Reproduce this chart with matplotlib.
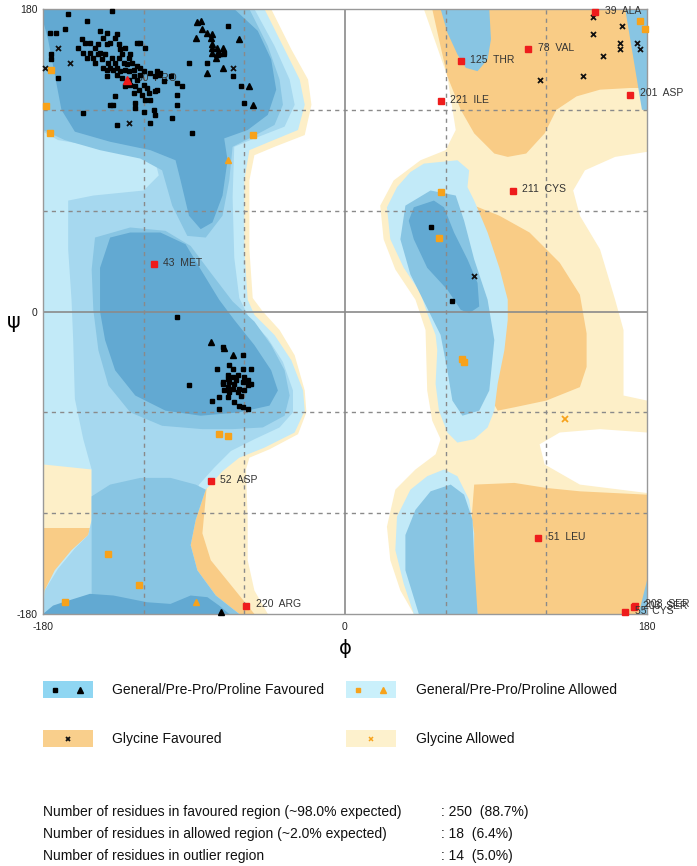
import matplotlib
matplotlib.use('Agg')
import matplotlib.pyplot as plt
from matplotlib.patches import Polygon, Rectangle

plt.rcParams['font.family'] = ['Liberation Sans', 'DejaVu Sans']
plt.rcParams['axes.unicode_minus'] = False

# ---------------- region outlines (phi, psi in degrees) ----------------
gly_allowed_left = [(-180,180),(-44,180),(-32,156),(-22,138),(-20,123),(-24,105),(-42,98),(-54,93),
    (-57,78),(-57,37),(-55,8),(-49,0),(-39,-11),(-30,-26),(-24,-47),(-23,-60),(-28,-73),(-45,-82),
    (-57,-87),(-59,-94),(-58,-124),(-58,-148),(-54,-166),(-46,-180),(-180,-180)]
gly_allowed_right = [(47,180),(180,180),(180,95),(161,92),(143,84),(136,72),(140,57),(152,37),(161,7),
    (166,-11),(166,-50),(180,-53),(180,-72),(152,-70),(128,-72),(116,-79),(119,-91),(140,-103),
    (180,-108),(180,-180),(41,-180),(33,-166),(27,-148),(25,-128),(30,-106),(42,-94),(54,-85),
    (57,-76),(52,-65),(49,-47),(48,-11),(42,7),(30,25),(23,43),(21,63),(29,78),(45,90),(60,96),
    (66,108),(61,140)]
gly_fav_left_band = [(-82,-100),(-85,-132),(-80,-148),(-67,-164),(-54,-180),(-98,-180),(-98,-100)]
gly_fav_left_corner = [(-180,-129),(-151,-129),(-151,-180),(-180,-180)]
gly_fav_top_right = [(52,180),(180,180),(180,133),(170,133),(152,132),(138,128),(126,120),(119,106),
    (108,94),(97,92),(89,94),(77,106),(69,120),(61,140),(56,162)]
gly_fav_mid_right = [(77,63),(92,57),(110,47),(128,29),(140,10),(144,-13),(144,-33),(140,-45),
    (120,-53),(101,-57),(91,-59),(86,-50),(89,7),(80,31),(74,54)]
gly_fav_low_right = [(77,-103),(101,-102),(120,-105),(140,-107),(180,-109),(180,-180),(77,-180),(74,-142)]

gen_allowed_outer_left = [(-180,180),(-48,180),(-36,156),(-27,138),(-24,123),(-28,108),(-45,101),
    (-57,96),(-60,78),(-60,37),(-58,7),(-54,-2),(-42,-14),(-32,-29),(-25,-47),(-24,-59),(-30,-72),
    (-48,-81),(-63,-87),(-73,-95),(-83,-106),(-89,-124),(-92,-139),(-88,-154),(-77,-169),(-63,-180),
    (-180,-180),(-179,-166),(-173,-154),(-163,-142),(-153,-133),(-151,-124),(-151,-94),(-180,-91)]
gen_allowed_inner_left = [(-180,180),(-54,180),(-42,158),(-33,138),(-30,123),(-36,110),(-54,103),
    (-66,98),(-67,68),(-66,32),(-63,8),(-57,-4),(-46,-16),(-37,-30),(-31,-47),(-31,-60),(-39,-69),
    (-54,-76),(-68,-83),(-78,-93),(-87,-103),(-93,-118),(-96,-136),(-93,-151),(-84,-166),(-70,-180),
    (-180,-180),(-179,-166),(-171,-153),(-161,-141),(-153,-133),(-151,-124),(-151,-94),(-156,-76),
    (-161,-52),(-162,-17),(-163,7),(-165,37),(-165,66),(-150,69),(-120,72),(-111,81),(-114,93),
    (-132,98),(-153,99),(-171,102),(-180,107)]
gen_mid_left_top = [(-180,180),(-57,180),(-46,158),(-39,138),(-37,123),(-42,111),(-57,103),(-67,98),
    (-69,78),(-73,57),(-83,44),(-94,45),(-103,63),(-109,84),(-122,91),(-146,96),(-167,102),(-180,108)]
gen_mid_left_alpha = [(-149,44),(-128,50),(-107,48),(-92,39),(-80,23),(-67,6),(-54,-6),(-44,-20),
    (-36,-35),(-33,-50),(-36,-62),(-49,-69),(-67,-70),(-85,-70),(-109,-68),(-128,-60),(-141,-44),
    (-147,-23),(-150,1),(-151,25)]
gen_mid_left_bottom = [(-151,-110),(-140,-103),(-122,-99),(-104,-99),(-89,-103),(-83,-106),(-89,-124),
    (-92,-139),(-88,-154),(-77,-169),(-63,-180),(-151,-180)]
gen_fav_left_top = [(-180,180),(-66,180),(-52,167),(-44,150),(-41,132),(-46,117),(-58,108),(-72,103),
    (-70,90),(-73,69),(-79,53),(-86,49),(-93,57),(-98,78),(-101,90),(-116,96),(-140,101),(-161,107),
    (-169,120),(-173,141),(-177,162),(-180,173)]
gen_fav_left_alpha = [(-140,44),(-146,26),(-146,0),(-143,-17),(-137,-35),(-125,-50),(-107,-59),
    (-86,-62),(-63,-60),(-45,-56),(-40,-47),(-44,-35),(-54,-20),(-66,-5),(-75,7),(-86,25),(-95,40),
    (-110,47),(-128,47)]
gen_fav_left_bottom = [(-180,-180),(-174,-175),(-168,-173),(-152,-168),(-138,-169),(-118,-173),
    (-104,-174),(-92,-169),(-82,-170),(-75,-175),(-69,-180)]

gen_right_top_tongue = [(57,180),(86,180),(87,162),(85,150),(79,143),(72,145),(67,153),(61,166)]
gen_right_edge_strip = [(167,180),(180,180),(180,120),(177,120),(173,144)]
gen_right_corner = [(175,-180),(180,-160),(180,-180)]
gen_right_alpha_outer = [(47,88),(67,90),(74,84),(73,74),(77,66),(85,47),(92,26),(97,7),(97,-5),(95,-23),
    (91,-43),(89,-59),(85,-69),(77,-76),(67,-78),(61,-72),(56,-59),(54,-43),(55,-23),(54,-14),(49,-1),
    (45,11),(35,26),(27,43),(25,62),(31,74),(39,83)]
gen_right_alpha_mid = [(36,63),(51,72),(66,69),(71,54),(77,31),(85,7),(89,-17),(86,-47),(80,-59),
    (70,-62),(64,-53),(61,-35),(57,-14),(48,4),(39,22),(33,43)]
gen_right_alpha_fav = [(41,62),(53,66),(59,62),(65,47),(73,31),(79,17),(80,3),(74,-1),(69,1),(61,13),
    (49,26),(41,43),(38,54)]
gen_right_low_outer = [(59,-94),(49,-98),(39,-106),(31,-122),(30,-142),(35,-162),(41,-180),(79,-180),
    (77,-162),(77,-132),(74,-112),(67,-98)]
gen_right_low_mid = [(63,-103),(51,-107),(42,-118),(36,-133),(36,-154),(44,-180),(79,-180),(77,-148),
    (76,-124),(71,-109)]

# ---------------- residues ----------------
fav_general = [(-139,179),(-165,177),(-154,173),(-176,166),(-172,166),(-167,168),(-146,167),(-142,166),
    (-144,163),(-136,165),(-137,163),(-157,162),(-155,160),(-152,160),(-159,157),(-149,157),(-147,159),
    (-142,159),(-140,160),(-124,160),(-122,160),(-119,157),(-175,153),(-175,150),(-156,154),(-154,151),
    (-152,154),(-150,151),(-147,153),(-145,150),(-143,153),(-141,148),(-139,151),(-137,148),(-135,151),
    (-133,153),(-132,148),(-130,147),(-129,151),(-144,145),(-142,144),(-140,145),(-138,144),(-136,145),
    (-134,143),(-131,144),(-129,143),(-126,144),(-142,140),(-136,141),(-133,139),(-126,140),(-124,138),
    (-122,141),(-128,135),(-125,134),(-123,132),(-126,130),(-120,135),(-118,133),(-116,142),(-112,143),
    (-113,140),(-111,141),(-110,142),(-117,130),(-113,131),(-104,140),(-100,136),(-97,134),(-112,132),
    (-108,137),(-137,128),(-140,123),(-138,123),(-125,124),(-125,121),(-120,119),(-114,120),(-113,117),
    (-156,118),(-136,111),(-116,112),(-103,115),(-100,129),(-100,123),(-171,139),(-91,106),(-93,148),
    (-82,148),(-70,170),(-67,140),(-62,134),(-60,124),(-72,154),
    (-134,156),(-131,157),(-128,153),(-135,159),(-127,148),(-124,146),(-122,145),(-120,143),(-129,138),
    (-131,134),(-121,129),(-119,126),(-116,126),(-146,154),(-149,148),
    (-100,-3),(-73,-21),(-61,-26),(-76,-34),(-69,-32),(-67,-34),(-61,-34),(-56,-34),(-93,-44),(-70,-38),
    (-67,-39),(-64,-38),(-60,-39),(-58,-41),(-73,-42),(-69,-42),(-66,-43),(-61,-42),(-58,-44),(-70,-45),
    (-67,-46),(-63,-46),(-60,-47),(-69,-48),(-64,-48),(-73,-43),(-72,-47),(-75,-51),(-70,-51),(-79,-53),
    (-66,-54),(-63,-56),(-61,-57),(-75,-58),(-58,-58),(-65,-41),(-70,-40),(-62,-50),(-56,-43),
    (51,50),(64,6)]
fav_proline = [(-86,173),(-88,172),(-85,168),(-82,166),(-80,163),(-79,165),(-89,163),(-63,162),(-79,159),
    (-76,157),(-79,154),(-75,154),(-77,151),(-73,154),(-76,153),(-73,157),(-79,157),(-82,142),(-73,145),
    (-57,134),(-55,123),(-80,-18),(-72,-22),(-67,-26),(-74,-179)]
fav_glycine = [(-179,145),(-171,157),(-164,148),(-129,112),(-67,145),(148,175),(165,170),(148,165),
    (164,160),(164,156),(174,160),(176,156),(154,152),(116,138),(142,140),(77,21)]
allowed_general = [(-175,144),(-178,122),(-176,106),(-55,105),(57,71),(56,44),(-75,-73),(-70,-74),
    (70,-28),(71,-30),(-141,-144),(-123,-163),(-167,-173),(176,173),(179,168)]
allowed_proline = [(-70,90),(-89,-173)]
allowed_glycine = [(131,-64)]
outlier_phi = [-114,-80,-59,149,109,69,57,170,100,115,172,173,167]
outlier_psi = [28,-101,-175,178,156,149,125,129,72,-135,-176,-175,-179]
outlier_names = ['43  MET','52  ASP','220  ARG','39  ALA','78  VAL','125  THR','221  ILE','201  ASP',
                 '211  CYS','51  LEU','203  SER','208  SER','55  CYS']
outlier_pro = [(-130,138)]
outlier_pro_names = ['50  PRO']

stat_labels = ['Number of residues in favoured region (~98.0% expected)',
               'Number of residues in allowed region (~2.0% expected)',
               'Number of residues in outlier region']
stat_values = [': 250  (88.7%)', ': 18  (6.4%)', ': 14  (5.0%)']
legend_labels = ['General/Pre-Pro/Proline Favoured', 'General/Pre-Pro/Proline Allowed',
                 'Glycine Favoured', 'Glycine Allowed']

# ---------------- colours ----------------
C_GLY_ALLOW = '#fdefc8'
C_GLY_FAV = '#f9cc86'
C_A = '#c2eaf8'
C_B = '#a6d8ef'
C_C = '#88c5e3'
C_D = '#62a9d2'
C_ORANGE = '#f7a21b'
C_RED = '#ee1c1c'

W, H = 697, 866
fig = plt.figure(figsize=(W/100, H/100), dpi=100)
ax = fig.add_axes([43/W, 1-614/H, 604/W, 605/H])
ax.set_xlim(-180, 180)
ax.set_ylim(-180, 180)

def fill(poly, color, z):
    ax.add_patch(Polygon(poly, closed=True, facecolor=color, edgecolor='none', zorder=z))

for p in [gly_allowed_left, gly_allowed_right]:
    fill(p, C_GLY_ALLOW, 1)
for p in [gly_fav_left_band, gly_fav_left_corner, gly_fav_top_right, gly_fav_mid_right, gly_fav_low_right]:
    fill(p, C_GLY_FAV, 2)
fill(gen_allowed_outer_left, C_A, 3)
fill(gen_allowed_inner_left, C_B, 4)
for p in [gen_mid_left_top, gen_mid_left_alpha, gen_mid_left_bottom]:
    fill(p, C_C, 5)
for p in [gen_fav_left_top, gen_fav_left_alpha, gen_fav_left_bottom]:
    fill(p, C_D, 6)
fill(gen_right_top_tongue, C_C, 3)
fill(gen_right_edge_strip, C_C, 3)
fill(gen_right_corner, C_C, 3)
fill(gen_right_alpha_outer, C_A, 3)
fill(gen_right_alpha_mid, C_C, 4)
fill(gen_right_alpha_fav, C_D, 5)
fill(gen_right_low_outer, C_A, 3)
fill(gen_right_low_mid, C_C, 4)

# grid lines
for v in (-120, -60, 60, 120):
    ax.axvline(v, color='#8a8a8a', lw=1.0, ls=(0, (3, 3)), zorder=7)
    ax.axhline(v, color='#8a8a8a', lw=1.0, ls=(0, (3, 3)), zorder=7)
ax.axvline(0, color='#8a8a8a', lw=1.2, zorder=7)
ax.axhline(0, color='#8a8a8a', lw=1.2, zorder=7)

def xy(lst):
    return [a for a, b in lst], [b for a, b in lst]

x, y = xy(fav_general)
ax.plot(x, y, 's', ms=3.4, color='black', mec='black', zorder=10, clip_on=False)
x, y = xy(fav_proline)
ax.plot(x, y, '^', ms=5.0, color='black', mec='black', zorder=10, clip_on=False)
x, y = xy(fav_glycine)
ax.plot(x, y, 'x', ms=3.6, mew=1.3, color='#111111', zorder=10, clip_on=False)
x, y = xy(allowed_general)
ax.plot(x, y, 's', ms=4.2, color=C_ORANGE, mec=C_ORANGE, zorder=10, clip_on=False)
x, y = xy(allowed_proline)
ax.plot(x, y, '^', ms=5.0, color=C_ORANGE, mec=C_ORANGE, zorder=10, clip_on=False)
x, y = xy(allowed_glycine)
ax.plot(x, y, 'x', ms=4.0, mew=1.3, color=C_ORANGE, zorder=10, clip_on=False)

ax.plot(outlier_phi, outlier_psi, 's', ms=4.6, color=C_RED, mec=C_RED, zorder=11, clip_on=False)
for ph, ps, nm in zip(outlier_phi, outlier_psi, outlier_names):
    ax.annotate(nm, (ph, ps), xytext=(7, 1), textcoords='offset points', fontsize=7.5,
                color='#333333', va='center', ha='left', zorder=12, annotation_clip=False)
x, y = xy(outlier_pro)
ax.plot(x, y, '^', ms=5.5, color=C_RED, mec=C_RED, zorder=11)
for (ph, ps), nm in zip(outlier_pro, outlier_pro_names):
    ax.annotate(nm, (ph, ps), xytext=(7, 1), textcoords='offset points', fontsize=7.5,
                color='#333333', va='center', ha='left', zorder=9)

ax.set_xticks([-180, 0, 180])
ax.set_yticks([-180, 0, 180])
ax.tick_params(length=0, labelsize=7.5, colors='#222222')
ax.tick_params(axis='x', pad=6)
ax.tick_params(axis='y', pad=4)
for s in ax.spines.values():
    s.set_color('#999999')
    s.set_linewidth(1.0)
    s.set_zorder(8)

fig.text(14/W, 1-322/H, 'ψ', fontsize=15, ha='center', va='center', family='DejaVu Sans')
fig.text(345/W, 1-648/H, 'ϕ', fontsize=14, ha='center', va='center', family='DejaVu Sans')

# legend and statistics in pixel coordinates
lax = fig.add_axes([0, 0, 1, 1], zorder=20)
lax.set_xlim(0, W)
lax.set_ylim(H, 0)
lax.axis('off')
lax.patch.set_alpha(0)

sw = [(43, 681, '#8fd6f2'), (346, 681, '#caf0fb'), (43, 730, '#f9cf8c'), (346, 730, '#fdf1cd')]
for (sx, sy, col) in sw:
    lax.add_patch(Rectangle((sx, sy), 50, 17, facecolor=col, edgecolor='none'))
lax.plot([55], [689.5], 's', ms=3.0, color='black')
lax.plot([80], [689.5], '^', ms=5.0, color='black')
lax.plot([358], [689.5], 's', ms=3.0, color=C_ORANGE)
lax.plot([383], [689.5], '^', ms=5.0, color=C_ORANGE)
lax.plot([68], [738.5], 'x', ms=3.5, mew=1.3, color='#111111')
lax.plot([371], [738.5], 'x', ms=3.5, mew=1.1, color=C_ORANGE)
for (tx, ty), t in zip([(112, 689.5), (416, 689.5), (112, 738.5), (416, 738.5)], legend_labels):
    lax.text(tx, ty, t, fontsize=10, va='center', ha='left', color='#111111')

for i, (lab, val) in enumerate(zip(stat_labels, stat_values)):
    yy = 812 + 22 * i
    lax.text(43, yy, lab, fontsize=10, va='center', ha='left', color='#111111')
    lax.text(441, yy, val, fontsize=10, va='center', ha='left', color='#111111')

fig.savefig('out.png', dpi=100)
